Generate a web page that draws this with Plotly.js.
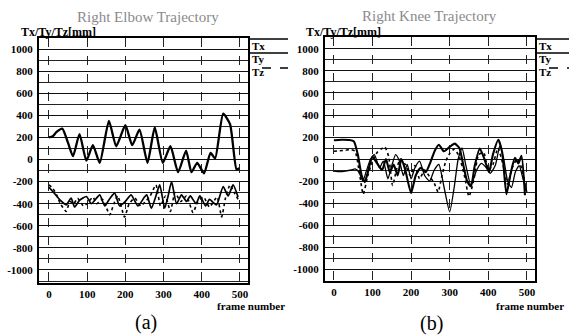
<!DOCTYPE html>
<html><head><meta charset="utf-8">
<script src="https://cdn.plot.ly/plotly-3.0.1.min.js"></script>
<style>html,body{margin:0;padding:0;background:#fff}#c{width:569px;height:335px}</style>
</head><body><div id="c"></div>
<script>
// ---- Data: (a) Right Elbow ----
const elbowTxF = [0,10,20,35,50,63,80,98,115,133,157,176,200,218,237,258,277,298,318,338,359,373,388,406,423,435,456,474,491,498];
const elbowTxV = [200,210,250,280,150,30,230,-10,130,-30,350,120,310,130,270,-30,290,-30,120,-115,80,-115,-30,-125,60,10,415,320,-90,-80];
const elbowTyF = [0,10,20,30,45,58,67,80,98,111,122,133,146,160,172,185,200,215,233,250,256,268,280,290,303,312,321,334,347,360,370,385,395,410,420,430,439,456,469,482,495];
const elbowTyV = [-250,-290,-330,-370,-410,-350,-430,-370,-335,-400,-360,-320,-420,-350,-305,-420,-380,-320,-420,-340,-320,-440,-330,-230,-440,-330,-200,-400,-320,-380,-330,-400,-330,-420,-360,-390,-410,-245,-330,-230,-340];
const elbowTzF = [0,10,20,30,45,55,65,75,90,100,115,125,140,159,170,180,198,210,225,240,255,265,280,292,305,318,330,345,360,377,390,405,420,440,452,462,474,485,495];
const elbowTzV = [-230,-260,-320,-400,-470,-380,-400,-350,-420,-400,-340,-400,-360,-500,-400,-330,-520,-400,-350,-420,-370,-330,-230,-420,-330,-470,-300,-380,-330,-480,-380,-340,-430,-340,-520,-350,-230,-300,-360];
// ---- Data: (b) Right Knee ----
const kneeTxF = [0,20,40,52,62,72,80,88,100,112,125,135,145,155,165,175,185,200,212,225,238,250,262,272,285,300,313,325,335,345,355,365,378,390,402,412,426,436,447,458,469,478,486,495];
const kneeTxV = [170,175,172,160,40,-150,-210,-120,20,-40,-100,0,-120,-50,-150,0,-100,-310,-150,-80,-120,-30,80,130,70,110,140,100,-50,-200,-250,-60,95,0,-120,40,175,60,-320,-130,10,-40,30,-330];
const kneeTyF = [0,15,30,45,55,65,75,85,95,105,118,128,140,150,160,170,180,190,200,210,222,235,248,260,272,285,300,312,322,332,342,355,370,382,395,405,418,430,440,450,460,470,480,490,500];
const kneeTyV = [-110,-115,-110,-100,-90,-120,-200,-100,0,40,-80,-20,-180,-60,40,-20,-150,-50,-180,-80,-20,-150,-200,-100,-50,-250,-480,-250,0,100,-60,-240,-100,-40,-80,-130,-60,120,0,-200,-260,-120,-60,-180,-300];
const kneeTzF = [0,15,30,45,55,65,76,88,100,112,122,132,142,152,162,172,185,198,210,222,235,248,260,270,280,290,300,312,325,338,350,362,375,388,400,412,425,438,450,462,475,488,498];
const kneeTzV = [70,75,80,85,70,-100,-320,-150,-20,60,90,110,20,-240,-100,0,-50,-150,-60,-180,-100,-160,-220,-300,-150,-20,50,90,20,-150,-340,-200,40,60,-100,-50,100,-50,-230,-80,0,-100,-290];
const seriesNames = ['Tx','Ty','Tz'];
const titles = ['Right Elbow Trajectory','Right Knee Trajectory'];
const yTickVals = [1000,800,600,400,200,0,-200,-400,-600,-800,-1000];
const xTickVals = [0,100,200,300,400,500];

const W=569,H=335;
const px = x => x/W, py = y => 1 - y/H;
const serif = 'Liberation Serif, DejaVu Serif, serif';

function tr(f,v,ax,w,dash){
  return {x:f,y:v,xaxis:ax[0],yaxis:ax[1],type:'scatter',mode:'lines',
    line:{color:'#000',width:w,dash:dash,shape:'spline',smoothing:0.55},showlegend:false,hoverinfo:'skip'};
}
const data = [
  tr(elbowTxF,elbowTxV,['x','y'],2.3,'solid'),
  tr(elbowTyF,elbowTyV,['x','y'],1.7,'solid'),
  tr(elbowTzF,elbowTzV,['x','y'],1.6,'dot'),
  tr(kneeTxF,kneeTxV,['x2','y2'],2.1,'solid'),
  tr(kneeTyF,kneeTyV,['x2','y2'],1.3,'solid'),
  tr(kneeTzF,kneeTzV,['x2','y2'],1.6,'dot'),
];

const tickfont = {family:serif,size:11,color:'#000',weight:'bold'};
function xax(dom,range){
  return {domain:dom,range:range,tickvals:xTickVals,ticktext:xTickVals.map(String),
    showgrid:true,gridcolor:'#222',gridwidth:1,griddash:'dash',zeroline:false,
    showline:true,mirror:true,linecolor:'#000',linewidth:2,ticks:'',tickfont:tickfont,fixedrange:true};
}
function yax(dom,range,anchor){
  return {domain:dom,range:range,anchor:anchor,tickvals:yTickVals,ticktext:yTickVals.map(String),
    showgrid:true,gridcolor:'#111',gridwidth:1,zeroline:false,
    minor:{dtick:100,tick0:0,showgrid:true,gridcolor:'#222',gridwidth:1,ticks:''},
    showline:true,mirror:true,linecolor:'#000',linewidth:2,ticks:'',tickfont:tickfont,ticklabelstandoff:2,fixedrange:true};
}
const lbox=[39,248,38,283], rbox=[325,535,37,281];
const layout = {
  width:W,height:H,margin:{l:0,r:0,t:0,b:0},paper_bgcolor:'#fff',plot_bgcolor:'#fff',
  xaxis:xax([px(lbox[0]),px(lbox[1])],[-26,521]),
  yaxis:yax([py(lbox[3]),py(lbox[2])],[-1118,1100],'x'),
  xaxis2:xax([px(rbox[0]),px(rbox[1])],[-23,521]),
  yaxis2:yax([py(rbox[3]),py(rbox[2])],[-1109,1109],'x2'),
  annotations:[],shapes:[]
};
layout.xaxis.anchor='y'; layout.xaxis2.anchor='y2';
const A = layout.annotations, S = layout.shapes;
function txt(t,x,y,opts){A.push(Object.assign({text:t,x:px(x),y:py(y),xref:'paper',yref:'paper',showarrow:false,
  font:{family:serif,size:11,color:'#000',weight:'bold'},xanchor:'left',yanchor:'middle'},opts||{}));}
// titles
txt(titles[0],148,17,{xanchor:'center',font:{family:serif,size:15,color:'#8a8a8a'}});
txt(titles[1],429,16,{xanchor:'center',font:{family:serif,size:15,color:'#8a8a8a'}});
txt('Tx/Ty/Tz[mm]',19,32,{font:{family:serif,size:12,color:'#000',weight:'bold'}});
txt('Tx/Ty/Tz[mm]',304,32,{font:{family:serif,size:12,color:'#000',weight:'bold'}});
txt('frame number',287,306,{xanchor:'right'});
txt('frame number',566,306,{xanchor:'right'});
txt('(a)',146,322,{xanchor:'center',font:{family:serif,size:20,color:'#000'}});
txt('(b)',431,323,{xanchor:'center',font:{family:serif,size:20,color:'#000'}});
// legends
function legend(x0,x1){
  S.push({type:'line',xref:'paper',yref:'paper',x0:px(x0),x1:px(x1),y0:py(39),y1:py(39),line:{color:'#000',width:1.5}});
  S.push({type:'line',xref:'paper',yref:'paper',x0:px(x0),x1:px(x1),y0:py(53),y1:py(53),line:{color:'#000',width:1.3}});
  S.push({type:'line',xref:'paper',yref:'paper',x0:px(x0+14),x1:px(x1),y0:py(68),y1:py(68),line:{color:'#000',width:1.3,dash:'dash'}});
  txt(seriesNames[0],x0+2,46);
  txt(seriesNames[1],x0+2,59);
  txt(seriesNames[2],x0+2,72);
}
legend(248,288);
legend(535,569);
Plotly.newPlot('c',data,layout,{staticPlot:true});
</script></body></html>
